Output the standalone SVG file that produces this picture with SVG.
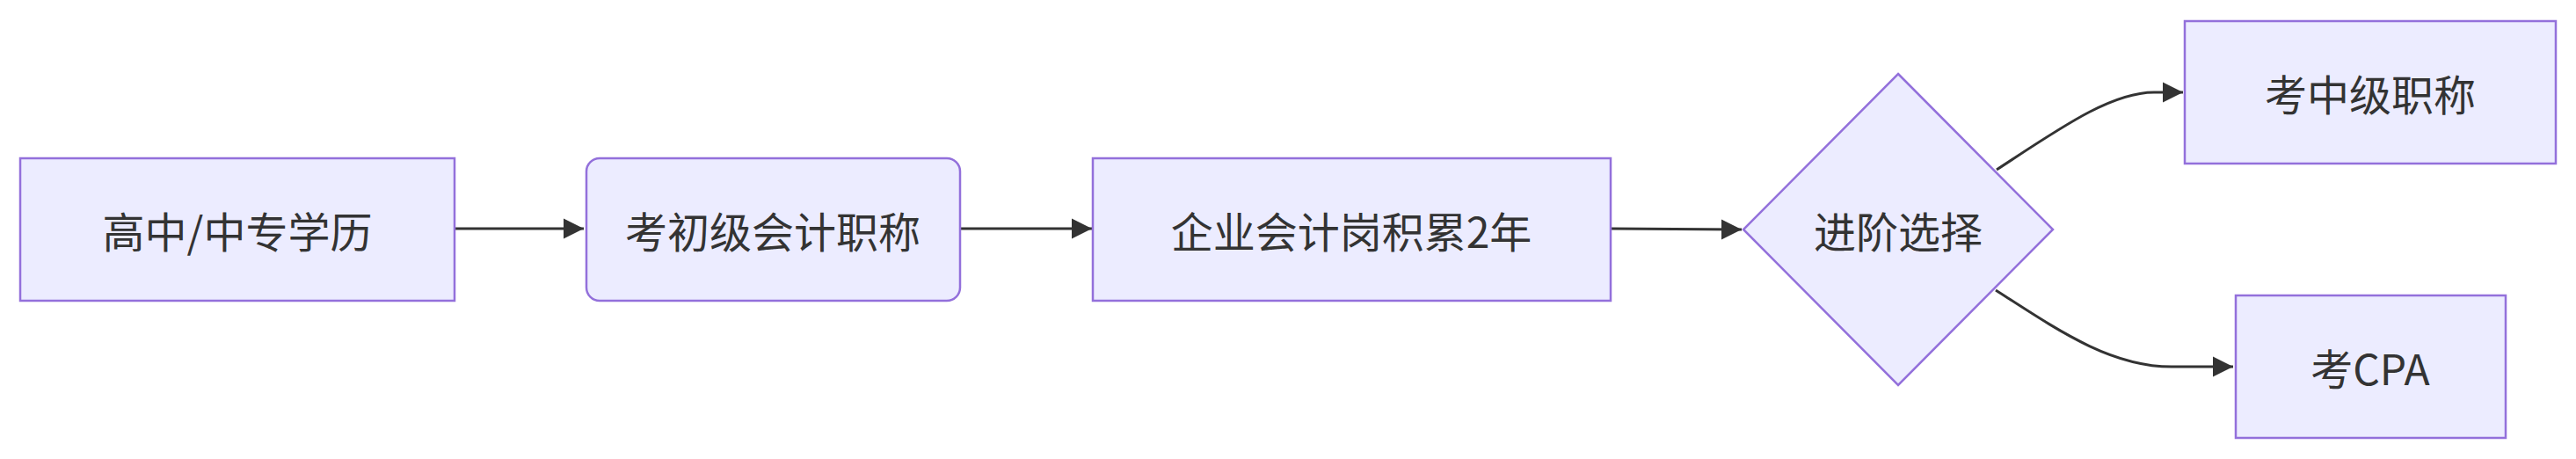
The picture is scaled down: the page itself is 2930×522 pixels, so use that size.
<svg xmlns="http://www.w3.org/2000/svg" width="2930" height="522" viewBox="0 0 2930 522">
<defs>
<style>
.node rect,.node polygon{fill:#ECECFF;stroke:#9370DB;stroke-width:2.5}
.lbl{font-family:"Noto Sans CJK SC","Liberation Sans",sans-serif;font-size:48px;fill:#333333;text-anchor:middle;dominant-baseline:central}
.edge{fill:none;stroke:#333333;stroke-width:3}
</style>
<marker id="arrow" viewBox="0 0 10 10" refX="10" refY="5" markerWidth="23" markerHeight="24" markerUnits="userSpaceOnUse" orient="auto">
<path d="M0,0 L10,5 L0,10 z" fill="#333333"/>
</marker>
</defs>
<rect width="2930" height="522" fill="#ffffff"/>
<g id="connectors">
<path class="edge" d="M517,260 L664,260" marker-end="url(#arrow)"/>
<path class="edge" d="M1092,260 L1242,260" marker-end="url(#arrow)"/>
<path class="edge" d="M1832,260 C1900,260 1940,261 1981,261" marker-end="url(#arrow)"/>
<path class="edge" d="M2271,193 C2340,148 2400,105 2450,105 L2483,105" marker-end="url(#arrow)"/>
<path class="edge" d="M2270,330 C2340,375 2400,417 2470,417 L2540,417" marker-end="url(#arrow)"/>
</g>
<g id="n1" class="node">
<rect x="23" y="180" width="494" height="162"/>
<text class="lbl" x="270" y="261">高中/中专学历</text>
</g>
<g id="n2" class="node">
<rect x="667" y="180" width="425" height="162" rx="15" ry="15"/>
<text class="lbl" x="879" y="261">考初级会计职称</text>
</g>
<g id="n3" class="node">
<rect x="1243" y="180" width="589" height="162"/>
<text class="lbl" x="1537" y="261">企业会计岗积累2年</text>
</g>
<g id="n4" class="node">
<polygon points="2159,84 2335,261 2159,438 1983,261"/>
<text class="lbl" x="2159" y="261">进阶选择</text>
</g>
<g id="n5" class="node">
<rect x="2485" y="24" width="422" height="162"/>
<text class="lbl" x="2696" y="105">考中级职称</text>
</g>
<g id="n6" class="node">
<rect x="2543" y="336" width="307" height="162"/>
<text class="lbl" x="2696" y="417">考CPA</text>
</g>
</svg>
